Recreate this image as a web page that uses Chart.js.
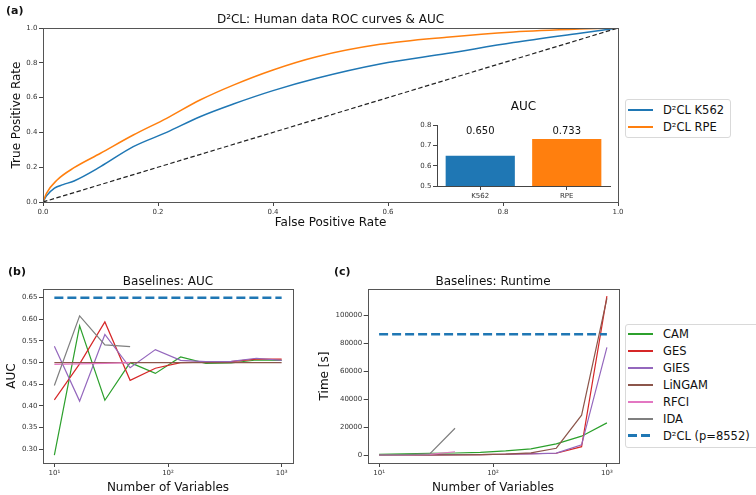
<!DOCTYPE html>
<html>
<head>
<meta charset="utf-8">
<title>D²CL ROC and baselines</title>
<script src="https://cdn.jsdelivr.net/npm/chart.js@4.4.0/dist/chart.umd.min.js"></script>
<style>
  body { margin: 0; background: #fff; font-family: "DejaVu Sans", sans-serif; color: #111; }
  #fig { position: relative; width: 756px; height: 495px; overflow: hidden; }
  #fig canvas, .tag, .legend { position: absolute; }
  .tag { font-weight: bold; font-size: 11px; }
  .legend { border: 1px solid #d9d9d9; border-radius: 3px; background: #fff; font-size: 11.5px; white-space: nowrap; box-sizing: border-box; }
  .legend .row { display: flex; align-items: center; }
  .legend .swatch { display: block; width: 25px; margin: 0 10px 0 2px; }
</style>
</head>
<body>
<div id="fig">
  <canvas id="roc" width="630" height="232" style="left:0;top:0"></canvas>
  <canvas id="aucBar" width="215" height="110" style="left:405px;top:95px"></canvas>
  <canvas id="baseAuc" width="300" height="245" style="left:0;top:250px"></canvas>
  <canvas id="baseTime" width="313" height="245" style="left:312px;top:250px"></canvas>
  <div class="tag" style="left:6px;top:4px">(a)</div>
  <div class="tag" style="left:8px;top:265px">(b)</div>
  <div class="tag" style="left:334px;top:265px">(c)</div>
  <div id="legendRoc" class="legend" style="left:625px;top:99px;width:106px;height:39px;padding-top:1px"></div>
  <div id="legendBase" class="legend" style="left:625px;top:324px;width:140px;height:124px;padding-top:1px"></div>
</div>
<script>
var blue = '#1f77b4', orange = '#ff7f0e', green = '#2ca02c', red = '#d62728',
    purple = '#9467bd', brown = '#8c564b', pink = '#e377c2', gray = '#7f7f7f';

// ROC curves
var fprK562 = [0, 0.006, 0.02, 0.035, 0.054, 0.10, 0.157, 0.215, 0.273, 0.331, 0.40, 0.476, 0.586, 0.702, 0.818, 0.934, 1.0];
var tprK562 = [0, 0.035, 0.08, 0.10, 0.121, 0.203, 0.318, 0.40, 0.49, 0.563, 0.64, 0.711, 0.793, 0.853, 0.916, 0.97, 1.0];
var fprRPE = [0, 0.006, 0.024, 0.054, 0.10, 0.157, 0.215, 0.273, 0.331, 0.40, 0.476, 0.586, 0.702, 0.818, 0.934, 1.0];
var tprRPE = [0, 0.05, 0.125, 0.197, 0.28, 0.385, 0.481, 0.586, 0.672, 0.759, 0.835, 0.906, 0.947, 0.977, 0.994, 1.0];

// AUC inset
var aucLabels = ['K562', 'RPE'];
var aucValues = [0.650, 0.733];

// baselines, per number of variables
var nVars = [10, 16.68, 27.83, 46.42, 77.43, 129.2, 215.4, 359.4, 599.5, 1000];
var aucCAM    = [0.286, 0.585, 0.413, 0.500, 0.475, 0.513, 0.498, 0.499, 0.506, 0.505];
var aucGES    = [0.414, 0.497, 0.594, 0.459, 0.487, 0.500, 0.501, 0.502, 0.508, 0.508];
var aucGIES   = [0.538, 0.411, 0.565, 0.488, 0.530, 0.505, 0.502, 0.503, 0.510, 0.505];
var aucLiNGAM = [0.500, 0.500, 0.500, 0.500, 0.500, 0.500, 0.500, 0.500, 0.500, 0.500];
var aucRFCI   = [0.496, 0.497, 0.498, 0.500];
var aucIDA    = [0.447, 0.608, 0.541, 0.537];

var timeCAM    = [600, 900, 1300, 1500, 2000, 3000, 4500, 8000, 13500, 23000];
var timeGES    = [100, 150, 200, 300, 400, 600, 1000, 1300, 6000, 113500];
var timeGIES   = [100, 150, 200, 300, 400, 600, 900, 1400, 7300, 77000];
var timeLiNGAM = [50, 80, 120, 200, 400, 700, 1600, 4900, 28500, 112000];
var timeRFCI   = [50, 150, 500, 2400];
var timeIDA    = [200, 400, 900, 19200];
var timeD2CL   = 86400;

var unitTicks = [0, 0.2, 0.4, 0.6, 0.8, 1.0];
var insetTicks = [0.5, 0.6, 0.7, 0.8];
var aucTicks = [0.30, 0.35, 0.40, 0.45, 0.50, 0.55, 0.60, 0.65];
var timeTicks = [0, 20000, 40000, 60000, 80000, 100000];
var logTicks = [10, 100, 1000];
var sup = { 1: '\u00b9', 2: '\u00b2', 3: '\u00b3' };

Chart.defaults.font.family = '"DejaVu Sans", sans-serif';
Chart.defaults.color = '#222';

function xy(xs, ys) {
  return ys.map(function (y, i) { return { x: xs[i], y: y }; });
}

// box around the plot area, drawn on top of the lines
var frame = {
  id: 'frame',
  afterDraw: function (chart, args, opts) {
    var a = chart.chartArea, ctx = chart.ctx;
    ctx.save();
    ctx.strokeStyle = opts.color || '#444';
    ctx.lineWidth = 1;
    ctx.strokeRect(Math.round(a.left) + 0.5, Math.round(a.top) + 0.5,
                   Math.round(a.right - a.left), Math.round(a.bottom - a.top));
    ctx.restore();
  }
};

function scale(o) {
  var s = {
    type: o.type || 'linear',
    min: o.min, max: o.max,
    offset: o.offset || false,
    afterFit: function (sc) {
      if (sc.isHorizontal()) sc.height = o.size; else sc.width = o.size;
    },
    border: { display: !!o.spine, color: '#444' },
    grid: { drawOnChartArea: false, tickLength: 4, color: '#444', offset: false },
    ticks: { font: { size: 7 }, color: '#333', padding: 1.5, maxRotation: 0, autoSkip: false },
    title: { display: !!o.title, text: o.title, color: '#111', font: { size: 12 }, padding: o.titlePad || 0 }
  };
  if (o.ticks) {
    s.afterBuildTicks = function (sc) {
      sc.ticks = o.ticks.map(function (v) { return { value: v }; });
    };
  }
  if (o.fmt) s.ticks.callback = o.fmt;
  return s;
}

function options(title, titlePad, pad, scales) {
  return {
    responsive: false,
    animation: false,
    layout: { padding: pad },
    plugins: {
      legend: { display: false },
      tooltip: { enabled: false },
      title: { display: true, text: title, color: '#111', font: { size: 12, weight: 'normal' }, padding: titlePad, fullSize: false },
      frame: { color: '#555' }
    },
    scales: scales
  };
}

function line(label, data, color, width, order, dash) {
  return {
    label: label, data: data, borderColor: color, backgroundColor: color,
    borderWidth: width, pointRadius: 0, fill: false, order: order,
    borderDash: dash || [], cubicInterpolationMode: 'monotone'
  };
}

var logFmt = function (v) { return '10' + sup[Math.round(Math.log10(v))]; };

// (a) ROC curves
var roc = new Chart(document.getElementById('roc'), {
  type: 'line',
  data: {
    datasets: [
      line('D\u00b2CL K562', xy(fprK562, tprK562), blue, 1.5, 2),
      line('D\u00b2CL RPE', xy(fprRPE, tprRPE), orange, 1.5, 1),
      line('', [{ x: 0, y: 0 }, { x: 1, y: 1 }], '#222', 1.2, 0, [4.5, 2.5])
    ]
  },
  options: options('D\u00b2CL: Human data ROC curves & AUC', { top: 12.3, bottom: 1.3 },
    { left: 0, right: 12, top: 0, bottom: 0 }, {
      x: scale({ min: 0, max: 1, ticks: unitTicks, size: 30, fmt: function (v) { return v.toFixed(1); },
                 title: 'False Positive Rate', titlePad: { bottom: 2.3 } }),
      y: scale({ min: 0, max: 1, ticks: unitTicks, size: 43, fmt: function (v) { return v.toFixed(1); },
                 title: 'True Positive Rate', titlePad: { top: 9.5 } })
    }),
  plugins: [frame]
});

// AUC values written above the bars
var barValues = {
  id: 'barValues',
  afterDatasetsDraw: function (chart) {
    var ctx = chart.ctx, y = chart.scales.y.getPixelForValue(0.77);
    var vals = chart.data.datasets[0].data;
    ctx.save();
    ctx.font = '10px "DejaVu Sans"';
    ctx.fillStyle = '#111';
    ctx.textAlign = 'center';
    ctx.textBaseline = 'middle';
    chart.getDatasetMeta(0).data.forEach(function (bar, i) {
      ctx.fillText(vals[i].toFixed(3), bar.x, y);
    });
    ctx.restore();
  }
};

new Chart(document.getElementById('aucBar'), {
  type: 'bar',
  data: {
    labels: aucLabels,
    datasets: [{ data: aucValues, backgroundColor: [blue, orange], barPercentage: 0.8, categoryPercentage: 1.0 }]
  },
  options: options('AUC', { top: 5, bottom: 11 }, { left: 0, right: 10, top: 0, bottom: 0 }, {
    x: scale({ type: 'category', size: 19, spine: true, offset: true,
               fmt: function (v) { return this.getLabelForValue(v); } }),
    y: scale({ min: 0.5, max: 0.8, ticks: insetTicks, size: 32, spine: true, fmt: function (v) { return v.toFixed(1); } })
  }),
  plugins: [barValues]
});

// (b) and (c) baselines
function baseSets(cam, ges, gies, lingam, rfci, ida, d2cl, d2clLabel) {
  return [
    line('CAM', xy(nVars, cam), green, 1.2, 7),
    line('GES', xy(nVars, ges), red, 1.2, 6),
    line('GIES', xy(nVars, gies), purple, 1.2, 5),
    line('LiNGAM', xy(nVars, lingam), brown, 1.2, 4),
    line('RFCI', xy(nVars, rfci), pink, 1.2, 3),
    line('IDA', xy(nVars, ida), gray, 1.2, 2),
    line(d2clLabel, [{ x: nVars[0], y: d2cl }, { x: nVars[nVars.length - 1], y: d2cl }], blue, 2.5, 1, [9, 4])
  ].map(function (ds) { ds.cubicInterpolationMode = 'default'; ds.tension = 0; return ds; });
}

new Chart(document.getElementById('baseAuc'), {
  type: 'line',
  data: { datasets: baseSets(aucCAM, aucGES, aucGIES, aucLiNGAM, aucRFCI, aucIDA, aucValues[0], '') },
  options: options('Baselines: AUC', { top: 24.6, bottom: 0 }, { left: 0, right: 7, top: 0, bottom: 0 }, {
    x: scale({ type: 'logarithmic', min: Math.pow(10, 0.9), max: Math.pow(10, 3.1), ticks: logTicks, size: 32,
               fmt: logFmt, title: 'Number of Variables', titlePad: { bottom: 0.1 } }),
    y: scale({ min: 0.268, max: 0.670, ticks: aucTicks, size: 43, fmt: function (v) { return v.toFixed(2); },
               title: 'AUC', titlePad: { top: 4.5 } })
  }),
  plugins: [frame]
});

var runtime = new Chart(document.getElementById('baseTime'), {
  type: 'line',
  data: { datasets: baseSets(timeCAM, timeGES, timeGIES, timeLiNGAM, timeRFCI, timeIDA, timeD2CL, 'D\u00b2CL (p=8552)') },
  options: options('Baselines: Runtime', { top: 24.6, bottom: 0 }, { left: 0, right: 6.7, top: 0, bottom: 0 }, {
    x: scale({ type: 'logarithmic', min: Math.pow(10, 0.9), max: Math.pow(10, 3.1), ticks: logTicks, size: 32,
               fmt: logFmt, title: 'Number of Variables', titlePad: { bottom: 0.1 } }),
    y: scale({ min: -5650, max: 118650, ticks: timeTicks, size: 55.7, fmt: function (v) { return String(v); },
               title: 'Time [s]', titlePad: { top: 5.8 } })
  }),
  plugins: [frame]
});

// legends, built from the dataset labels and styles
function htmlLegend(chart, id, rowHeight) {
  var box = document.getElementById(id);
  chart.data.datasets.forEach(function (ds) {
    if (!ds.label) return;
    var row = document.createElement('div');
    row.className = 'row';
    row.style.height = rowHeight + 'px';
    var sw = document.createElement('span');
    sw.className = 'swatch';
    sw.style.height = Math.max(2, Math.round(ds.borderWidth)) + 'px';
    sw.style.background = ds.borderDash.length
      ? 'repeating-linear-gradient(90deg,' + ds.borderColor + ' 0 9px, transparent 9px 13px)'
      : ds.borderColor;
    var txt = document.createElement('span');
    txt.textContent = ds.label;
    row.appendChild(sw);
    row.appendChild(txt);
    box.appendChild(row);
  });
}
htmlLegend(roc, 'legendRoc', 17.6);
htmlLegend(runtime, 'legendBase', 16.9);
</script>
</body>
</html>
